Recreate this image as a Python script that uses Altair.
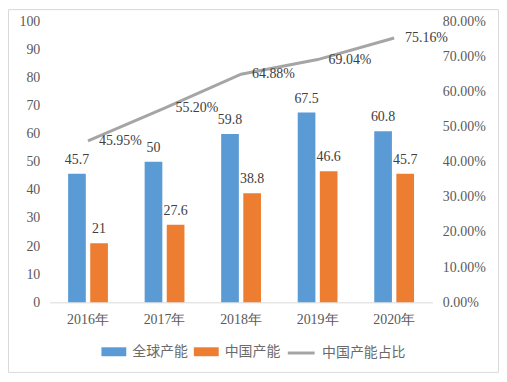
import altair as alt
import pandas as pd

years = ["2016年", "2017年", "2018年", "2019年", "2020年"]
global_cap = [45.7, 50, 59.8, 67.5, 60.8]
china_cap = [21, 27.6, 38.8, 46.6, 45.7]
china_share = [0.4595, 0.5520, 0.6488, 0.6904, 0.7516]
series = ["全球产能", "中国产能"]
share_name = "中国产能占比"
left_ticks = list(range(0, 101, 10))
right_ticks = [0, 0.1, 0.2, 0.3, 0.4, 0.5, 0.6, 0.7, 0.8]

bars_df = pd.DataFrame({
    "year": years * 2,
    "series": [series[0]] * len(years) + [series[1]] * len(years),
    "value": global_cap + china_cap,
})
share_df = pd.DataFrame({"year": years, "share": china_share, "name": [share_name] * len(years)})

FONT = "Liberation Serif, Times New Roman, serif"
W, H = 385, 283

x_enc = alt.X("year:N", sort=years,
              scale=alt.Scale(paddingInner=0.48, paddingOuter=0.24),
              axis=alt.Axis(title=None, labelAngle=0, domainColor="#D9D9D9", ticks=False,
                            labelPadding=10, labelFontSize=14, labelColor="#595959",
                            labelFont=FONT, labelOverlap=False))
xoff = alt.XOffset("series:N", sort=series, scale=alt.Scale(paddingInner=0.2))

border = alt.Chart(pd.DataFrame({"k": [0]})).mark_rect(
    fill="transparent", stroke="#D9D9D9", strokeWidth=1
).encode(x=alt.value(-41.5), x2=alt.value(451.5), y=alt.value(-11.5), y2=alt.value(353.5))

y_left = alt.Y("value:Q", scale=alt.Scale(domain=[0, 100], nice=False),
               axis=alt.Axis(title=None, values=left_ticks, tickCount=11, domain=False, ticks=False,
                             grid=False, labelPadding=10, labelFontSize=14, labelColor="#595959",
                             labelFont=FONT, labelOverlap=False))

bars = alt.Chart(bars_df).mark_bar().encode(
    x=x_enc, xOffset=xoff, y=y_left,
    color=alt.Color("series:N", sort=series,
                    scale=alt.Scale(domain=series, range=["#5B9BD5", "#ED7D31"]),
                    legend=alt.Legend(orient="none", legendX=52, legendY=320, direction="horizontal",
                                      title=None, symbolType="M-1,-0.36L1,-0.36L1,0.36L-1,0.36Z",
                                      symbolSize=625, symbolStrokeWidth=0, labelOffset=6,
                                      columnPadding=6, padding=0, labelFontSize=14,
                                      labelColor="#6a6a6a", labelFont="Noto Sans CJK SC")),
)
bar_labels = alt.Chart(bars_df).mark_text(baseline="bottom", dy=-7, fontSize=14, color="#404040",
                                          font=FONT).encode(
    x=x_enc, xOffset=xoff, y=y_left, text=alt.Text("value:Q"),
)
left = alt.layer(bars, bar_labels)

y_right = alt.Y("share:Q", scale=alt.Scale(domain=[0, 0.8], nice=False),
                axis=alt.Axis(title=None, orient="right", values=right_ticks, tickCount=9,
                              format=".2%", domain=False, ticks=False, grid=False, labelPadding=10,
                              labelFontSize=14, labelColor="#595959", labelFont=FONT,
                              labelOverlap=False))
line = alt.Chart(share_df).mark_line(strokeWidth=3).encode(
    x=x_enc, y=y_right,
    stroke=alt.Stroke("name:N", scale=alt.Scale(domain=[share_name], range=["#A5A5A5"]),
                      legend=alt.Legend(orient="none", legendX=238, legendY=319, title=None,
                                        symbolType="stroke", symbolSize=729, symbolStrokeWidth=3,
                                        labelOffset=6, padding=0, labelFontSize=14,
                                        labelColor="#6a6a6a", labelFont="Noto Sans CJK SC")),
)
line_labels = alt.Chart(share_df).mark_text(align="left", baseline="middle", dx=11, fontSize=14,
                                            color="#404040", font=FONT).encode(
    x=x_enc, y=y_right, text=alt.Text("share:Q", format=".2%"),
)
right = alt.layer(line, line_labels)

chart = alt.layer(border, left, right).resolve_scale(y="independent").properties(
    width=W, height=H,
    autosize=alt.AutoSizeParams(type="none"),
    padding={"left": 42, "top": 12, "right": 67, "bottom": 71},
).configure_view(stroke=None).configure_axis(labelFont=FONT, labelOverlap=False).configure_text(font=FONT)

chart.save("out.html", embed_options={"renderer": "svg", "actions": False})
